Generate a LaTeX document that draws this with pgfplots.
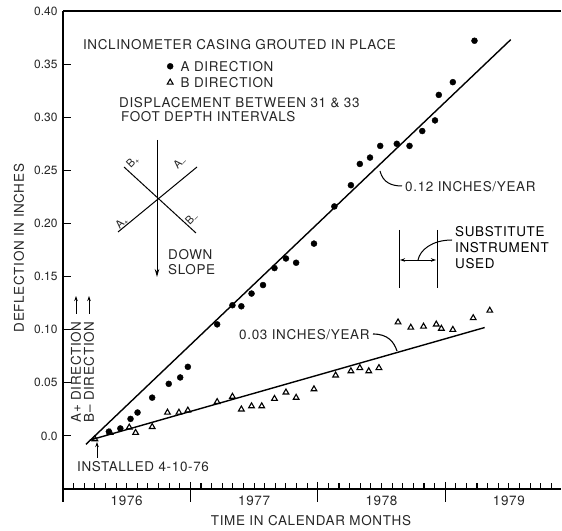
\documentclass[border=0pt]{standalone}
\usepackage{pgfplots}
\pgfplotsset{compat=1.18}
\usepackage{pgfplotstable}
\usepackage{fontspec}
\setmainfont{TeX Gyre Heros}[LetterSpace=5]
\newfontfamily\plainfont{TeX Gyre Heros}
\usetikzlibrary{calc,arrows.meta}
\newcommand\fs{\fontsize{13.5}{15}\selectfont}
\newcommand\fsm{\plainfont\fontsize{11}{12}\selectfont}
\newcommand\fst{\plainfont\fontsize{12}{14}\selectfont}

% x = months since January 1976
\pgfplotstableread{
t v
4.32 0.004
5.40 0.007
6.36 0.016
7.02 0.022
8.40 0.036
9.96 0.049
11.04 0.055
11.76 0.065
14.52 0.105
15.96 0.123
16.80 0.122
17.76 0.134
18.84 0.142
19.92 0.158
21.00 0.167
21.96 0.163
23.64 0.181
25.56 0.216
27.12 0.236
27.96 0.256
28.92 0.262
29.88 0.273
31.44 0.275
32.64 0.273
33.84 0.287
35.04 0.297
35.40 0.321
36.72 0.333
38.76 0.372
}\dataA

\pgfplotstableread{
t v
3.00 -0.003
4.44 0.003
6.24 0.008
6.84 0.003
8.40 0.0085
9.84 0.022
10.92 0.022
11.76 0.024
14.52 0.032
15.96 0.037
16.80 0.025
17.76 0.028
18.72 0.028
19.92 0.035
21.00 0.041
21.96 0.036
23.64 0.044
25.68 0.057
27.12 0.061
27.96 0.064
28.80 0.061
29.76 0.064
31.56 0.107
32.76 0.102
33.96 0.103
35.16 0.105
35.64 0.101
36.72 0.100
38.64 0.111
40.20 0.118
}\dataB

\begin{document}
\begin{tikzpicture}[every node/.append style={text=black!85}]
\begin{axis}[
  name=ax,
  scale only axis,
  width=498bp, height=478bp,
  xmin=0, xmax=46.91,
  ymin=-0.05, ymax=0.40,
  axis lines=left,
  axis line style={-, line width=1.3bp, black},
  tick align=inside,
  ytick={0,0.05,0.10,0.15,0.20,0.25,0.30,0.35,0.40},
  yticklabels={0.0,0.05,0.10,0.15,0.20,0.25,0.30,0.35,0.40},
  xtick={6,18,30,42},
  xticklabels={1976,1977,1978,1979},
  minor xtick={1,2,...,46},
  major tick length=8bp,
  minor tick length=6bp,
  every tick/.style={black, line width=1.1bp},
  major x tick style={draw=none},
  xticklabel style={font=\fs, text=black!85, yshift=-3bp},
  yticklabel style={font=\fst, text=black!85, xshift=-2bp},
  every axis y label/.style={at={(axis description cs:-0.0884,0.504)}, rotate=90, anchor=center, font=\fs, text=black!85},
  every axis x label/.style={at={(axis description cs:0.498,-0.067)}, anchor=center, font=\fs, text=black!85},
  ylabel={DEFLECTION IN INCHES},
  xlabel={TIME IN CALENDAR MONTHS},
  clip=false,
  legend style={draw=none, fill=none, at={(0.2088,0.898)}, anchor=north west,
    font=\fs, text=black!85, row sep=3.4bp, column sep=6bp, inner sep=0pt,
    nodes={inner sep=1.5bp, text height=9.7bp, text depth=0pt}},
  legend cell align=left,
]
\addplot[only marks, mark=*, mark size=3bp, black] table[x=t,y=v] {\dataA};
\addlegendentry{A DIRECTION}
\addplot[only marks, mark=triangle, mark size=3.3bp, black, mark options={line width=1.1bp}] table[x=t,y=v] {\dataB};
\addlegendentry{B DIRECTION}
\addplot[black, line width=1.4bp, forget plot] coordinates {(2.16,-0.008) (42.17,0.373)};
\addplot[black, line width=1.4bp, forget plot] coordinates {(2.52,-0.004) (39.72,0.102)};
\draw[line width=1.3bp, black] (rel axis cs:0,1) -- (rel axis cs:1,1);
\end{axis}
\pgfresetboundingbox
\begin{scope}[x=1bp, y=-1bp, shift={($(ax.north west)+(-63bp,11bp)$)},
  ann/.style={font=\fs, text=black!85, inner sep=0pt, text height=9.7bp, text depth=0pt}]
\path[use as bounding box] (0,0) rectangle (562,531);
% year ticks
\foreach \xx in {63,190.4,317.8,445.2} {\draw[line width=1.3bp, black] (\xx,482) -- (\xx,502);}
\node[ann, anchor=center] at (239.5,45) {INCLINOMETER CASING GROUTED IN PLACE};
\node[ann, anchor=west] at (119,103) {DISPLACEMENT BETWEEN 31 \& 33};
\node[ann, anchor=west] at (121,117) {FOOT DEPTH INTERVALS};
% compass
\draw[line width=1bp, black, -{Stealth[length=8bp,width=4.5bp]}] (157,140) -- (157,277);
\draw[line width=1bp, black] (124,167) -- (196,233);
\draw[line width=1bp, black] (118,232) -- (197,167);
\node[font=\fsm, inner sep=0pt, rotate=45] at (133,162) {B\textsubscript{+}};
\node[font=\fsm, inner sep=0pt, rotate=45] at (180,163) {A\textsubscript{–}};
\node[font=\fsm, inner sep=0pt, rotate=45] at (122,223) {A\textsubscript{+}};
\node[font=\fsm, inner sep=0pt, rotate=45] at (192,219) {B\textsubscript{–}};
\node[ann, anchor=west] at (168,255) {DOWN};
\node[ann, anchor=west] at (168,270) {SLOPE};
% direction labels
\node[ann, rotate=90, anchor=center] at (76,372) {A+ DIRECTION};
\node[ann, rotate=90, anchor=center] at (89,372) {B– DIRECTION};
\draw[line width=1bp, black, -{Stealth[length=5bp,width=3.5bp]}] (76,314) -- (76,296);
\draw[line width=1bp, black, -{Stealth[length=5bp,width=3.5bp]}] (89,314) -- (89,296);
% installed
\node[ann, anchor=west] at (77,467) {INSTALLED 4-10-76};
\draw[line width=1bp, black, -{Stealth[length=5bp,width=3.5bp]}] (97,458) -- (97,442);
% rate labels
\node[ann, anchor=west] at (405,187) {0.12 INCHES/YEAR};
\draw[line width=1bp, black] (380,171) .. controls (383,183) and (392,186) .. (402,186);
\node[ann, anchor=west] at (239,335) {0.03 INCHES/YEAR};
\draw[line width=1.1bp, black] (373,334) .. controls (388,334) and (394,342) .. (397,351);
% substitute instrument
\node[ann, anchor=west, text=black] at (455,232) {SUBSTITUTE};
\node[ann, anchor=west, text=black] at (455,248) {INSTRUMENT};
\node[ann, anchor=west, text=black] at (455,264) {USED};
\draw[line width=1bp, black] (399,230) -- (399,288);
\draw[line width=1bp, black] (437,230) -- (437,288);
\draw[line width=0.9bp, black, {Stealth[length=5bp,width=3.5bp]}-{Stealth[length=5bp,width=3.5bp]}] (400,260) -- (436,260);
\draw[line width=1bp, black] (452,240) .. controls (432,240) and (420,250) .. (418,260);
\end{scope}
\end{tikzpicture}
\end{document}
